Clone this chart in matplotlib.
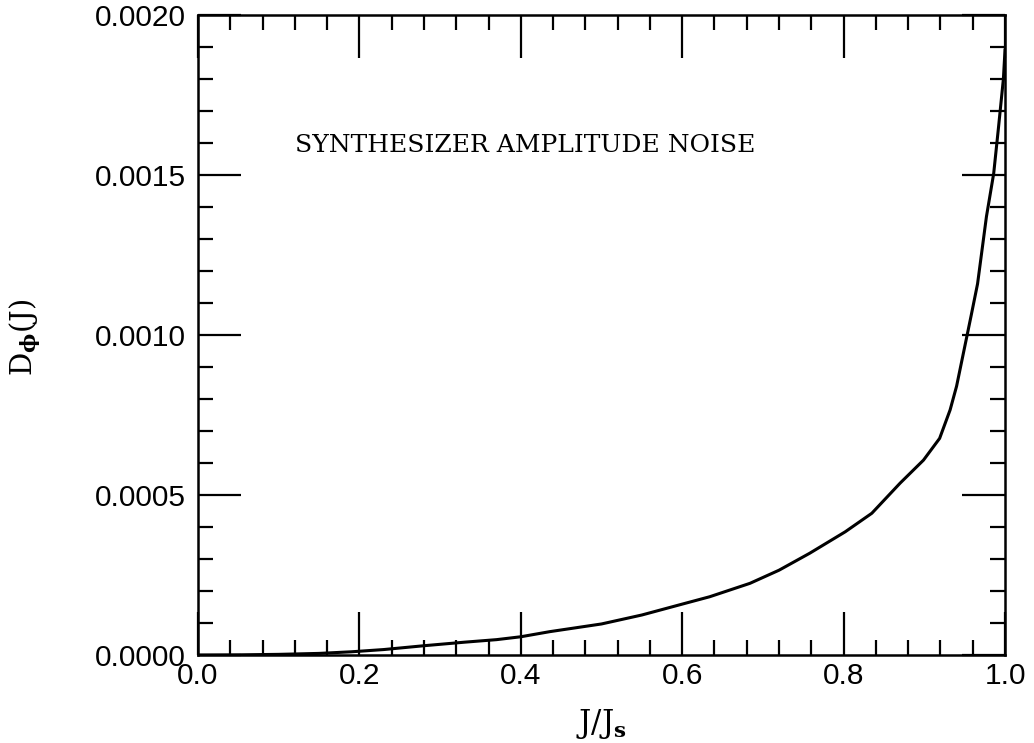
import matplotlib
matplotlib.use("Agg")
import matplotlib.pyplot as plt
from matplotlib.ticker import MultipleLocator, FormatStrFormatter

# Data
J = [0.0, 0.05, 0.10, 0.15, 0.19, 0.23, 0.28, 0.33, 0.37, 0.40, 0.436, 0.50,
     0.55, 0.60, 0.634, 0.684, 0.72, 0.758, 0.802, 0.835, 0.870, 0.899, 0.919,
     0.932, 0.940, 0.949, 0.958, 0.966, 0.977, 0.986, 0.992, 0.998, 1.0]
D = [0.0, 0.0005, 0.002, 0.005, 0.010, 0.017, 0.029, 0.040, 0.048, 0.057, 0.073, 0.097,
     0.125, 0.159, 0.182, 0.224, 0.265, 0.318, 0.385, 0.443, 0.537, 0.609, 0.677,
     0.766, 0.84, 0.95, 1.06, 1.16, 1.37, 1.505, 1.65, 1.80, 1.89]
D = [d * 1e-3 for d in D]

x_ticks = [0.0, 0.2, 0.4, 0.6, 0.8, 1.0]
y_ticks = [0.0, 0.0005, 0.0010, 0.0015, 0.0020]
annotation = "SYNTHESIZER AMPLITUDE NOISE"

plt.rcParams['mathtext.fontset'] = 'dejavuserif'

fig = plt.figure(figsize=(10.34, 7.43), dpi=100)
ax = fig.add_axes([198/1034, 88/743, 807/1034, 640/743])

ax.plot(J, D, color='black', lw=2.2)

ax.set_xlim(0, 1.0)
ax.set_ylim(0, 0.0020)
ax.set_xticks(x_ticks)
ax.set_yticks(y_ticks)
ax.xaxis.set_minor_locator(MultipleLocator(0.04))
ax.yaxis.set_minor_locator(MultipleLocator(0.0001))
ax.xaxis.set_major_formatter(FormatStrFormatter('%.1f'))
ax.yaxis.set_major_formatter(FormatStrFormatter('%.4f'))

ax.tick_params(which='both', direction='in', top=True, right=True, width=1.6, color='black')
ax.tick_params(which='major', length=31)
ax.tick_params(which='minor', length=11)
ax.tick_params(axis='x', which='major', pad=5)
ax.tick_params(axis='y', which='major', pad=9)
for lab in ax.get_xticklabels() + ax.get_yticklabels():
    lab.set_fontfamily('Liberation Sans')
    lab.set_fontsize(21.5)
for s in ax.spines.values():
    s.set_linewidth(1.8)

ax.set_xlabel(r'$\mathrm{J/J}_{\mathbf{s}}$', fontsize=22, labelpad=12)
ax.set_ylabel(r'$\mathrm{D}_{\mathbf{\phi}}\mathrm{(J)}$', fontsize=21)
ax.yaxis.set_label_coords(-0.192, 0.497)

ax.text(0.120, 0.001572, annotation, fontfamily='DejaVu Serif', fontsize=18,
        ha='left', va='baseline')

fig.savefig('out.png', dpi=100)
